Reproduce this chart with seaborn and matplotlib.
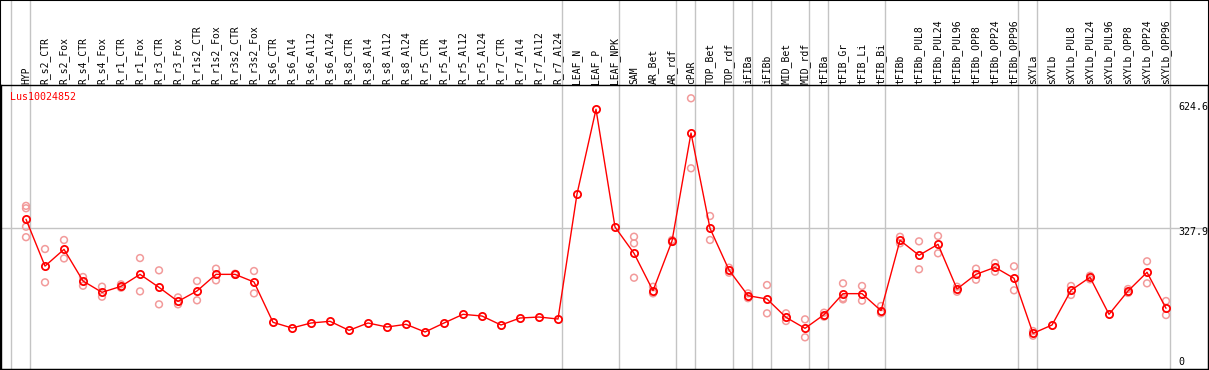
import numpy as np
import pandas as pd
import matplotlib
matplotlib.use("Agg")
import matplotlib.pyplot as plt
from matplotlib import transforms
from matplotlib.patches import Rectangle
import seaborn as sns

categories = [
    "HYP", "R_s2_CTR", "R_s2_Fox", "R_s4_CTR", "R_s4_Fox", "R_r1_CTR", "R_r1_Fox",
    "R_r3_CTR", "R_r3_Fox", "R_r1s2_CTR", "R_r1s2_Fox", "R_r3s2_CTR", "R_r3s2_Fox",
    "R_s6_CTR", "R_s6_Al4", "R_s6_Al12", "R_s6_Al24", "R_s8_CTR", "R_s8_Al4",
    "R_s8_Al12", "R_s8_Al24", "R_r5_CTR", "R_r5_Al4", "R_r5_Al12", "R_r5_Al24",
    "R_r7_CTR", "R_r7_Al4", "R_r7_Al12", "R_r7_Al24", "LEAF_N", "LEAF_P", "LEAF_NPK",
    "SAM", "AR_Bet", "AR_rdf", "cPAR", "TOP_Bet", "TOP_rdf", "iFIBa", "iFIBb",
    "MID_Bet", "MID_rdf", "tFIBa", "tFIB_Gr", "tFIB_Li", "tFIB_Bi", "tFIBb",
    "tFIBb_PUL8", "tFIBb_PUL24", "tFIBb_PUL96", "tFIBb_OPP8", "tFIBb_OPP24",
    "tFIBb_OPP96", "sXYLa", "sXYLb", "sXYLb_PUL8", "sXYLb_PUL24", "sXYLb_PUL96",
    "sXYLb_OPP8", "sXYLb_OPP24", "sXYLb_OPP96",
]

group_sizes = [1, 28, 3, 3, 1, 2, 1, 1, 2, 1, 3, 7, 1, 7]

means = [
    350.5, 234, 275.7, 196.8, 168.6, 183.5, 213.4, 181, 146, 172, 213.4, 213.4, 194.3,
    93.9, 79.7, 92.2, 96.4, 73.9, 92.2, 82.2, 88.9, 69.8, 92.2, 113.8, 109.6, 87.2,
    104.6, 107.1, 102.1, 413.6, 624.6, 331.3,
    265.8, 172.6, 296.5, 565.5, 328, 224, 160.3, 152, 106.3, 78.9, 112.9, 165.3, 165.3,
    122.9, 298.2, 260.8, 288.2, 176.9, 213.4, 230.9, 203.5, 66.4, 87.2, 173.6, 206,
    113.8, 171.9, 218.5, 128.8,
]

replicates = [
    [384, 378, 332, 306], [276.5, 193.5], [299, 253], [206.8, 185], [182.7, 157.7],
    [188.5, 180], [254, 171], [223.4, 138.7], [156, 138.7], [196.8, 148.7],
    [227.5, 198.5], [215, 212], [221.7, 166],
    [], [], [], [], [], [], [], [], [], [], [], [], [], [], [], [],
    [], [], [],
    [307.2, 290.7, 205], [182.6, 166], [299, 294], [652, 477.6], [358.7, 299],
    [230, 217.5], [166, 154], [186.8, 116.3], [116.3, 97.2], [101.3, 56.5],
    [117.9, 107.9], [191, 154, 151], [184.4, 147.8], [134.5, 116.3], [307, 290.7],
    [295.6, 226], [309, 265.8], [182.6, 170], [227.5, 200], [241.7, 220],
    [233.4, 173.6], [72.2, 60.5], [], [184.4, 162], [210, 201], [], [176.9, 167],
    [245.9, 191], [147, 112],
]

gene = "Lus10024852"
ytick_values = [624.6, 327.9, 0]
ytick_labels = ["624.6", "327.9", "0"]

sns.set_style("white")
plt.rcParams["font.family"] = ["DejaVu Sans Mono"]

W, H = 1209, 370
fig = plt.figure(figsize=(W / 100, H / 100), dpi=100)
ax = fig.add_axes([1 / W, 1 - 369 / H, 1207 / W, 284 / H])

x = np.arange(len(categories))
df_mean = pd.DataFrame({"x": x, "v": means})
rx, rv = [], []
for i, reps in enumerate(replicates):
    for r in reps:
        rx.append(i)
        rv.append(r)
df_rep = pd.DataFrame({"x": rx, "v": rv})

ax.set_xlim(-1.316, 62.21)
ax.set_ylim(-22.4, 685.1)

grid_c = "#c4c4c4"
ax.axhline(327.9, color=grid_c, lw=1, zorder=0.5)

# group boundaries (full height incl. header)
bl = transforms.blended_transform_factory(ax.transData, fig.transFigure)
ends = np.cumsum(group_sizes) - 1
bounds = [-0.77] + [e + 0.23 for e in ends]
for b in bounds:
    ax.plot([b, b], [0, 1], transform=bl, color=grid_c, lw=1, clip_on=False, zorder=0.5)

sns.scatterplot(data=df_rep, x="x", y="v", ax=ax, marker="o", s=24,
                color="#f29a9a", linewidth=1.1, zorder=2)
ax.collections[-1].set_facecolor("none")
ax.collections[-1].set_edgecolor("#f29a9a")

sns.lineplot(data=df_mean, x="x", y="v", ax=ax, color="red", lw=1,
             marker="o", markersize=5.2, markerfacecolor="none",
             markeredgecolor="red", markeredgewidth=1.3, zorder=3)

ax.set_xticks([])
ax.set_yticks([])
ax.set_xlabel("")
ax.set_ylabel("")
for s in ax.spines.values():
    s.set_color("black")
    s.set_linewidth(1)

# header labels
for i, c in enumerate(categories):
    ax.text(i, 1 - 83.5 / H, c, transform=bl, rotation=90, ha="center", va="bottom",
            fontsize=7, color="black", clip_on=False)

ax.text(9 / 1207, 1 - 12.3 / 284, gene, transform=ax.transAxes, color="red",
        fontsize=7.2, ha="left", va="center")

offs = [2.3, -3.4, -1.7]
for v, lab, o in zip(ytick_values, ytick_labels, offs):
    ax.annotate(lab, xy=(1177 / 1207, v), xycoords=("axes fraction", "data"),
                xytext=(0, o * 0.72), textcoords="offset points",
                ha="left", va="center", fontsize=7.2, color="black",
                annotation_clip=False)

fig.patches.append(Rectangle((0, 0), 1, 1, transform=fig.transFigure, fill=False,
                             edgecolor="black", lw=1.5, zorder=10))

fig.savefig("out.png", dpi=100)
